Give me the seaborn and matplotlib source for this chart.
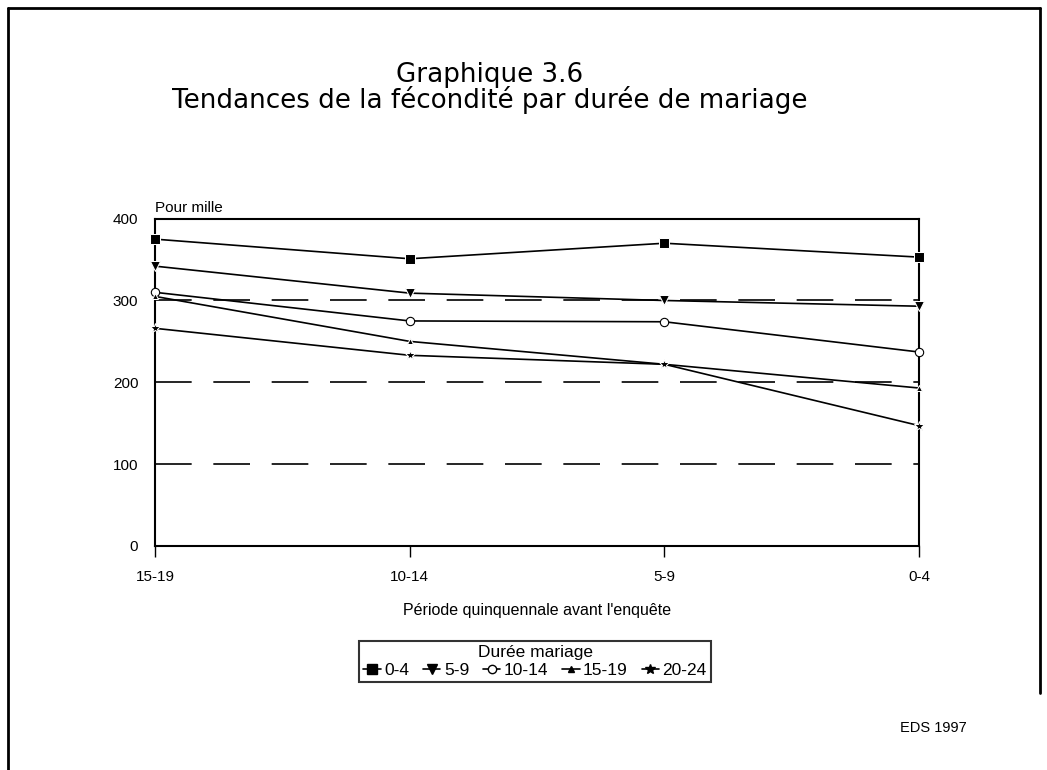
""" Graphique 3.6 : tendances de la fecondite par duree de mariage """

import numpy as np
import pandas as pd
import seaborn as sns
from matplotlib import pyplot as plt
from matplotlib.lines import Line2D

# Data
periods = ['15-19', '10-14', '5-9', '0-4']
durations = ['0-4', '5-9', '10-14', '15-19', '20-24']
rate_0_4 = [375, 351, 370, 353]
rate_5_9 = [342, 309, 300, 293]
rate_10_14 = [310, 275, 274, 237]
rate_15_19 = [305, 250, 222, 193]
rate_20_24 = [266, 233, 222, 147]

series = [rate_0_4, rate_5_9, rate_10_14, rate_15_19, rate_20_24]

rows = []
for dur, vals in zip(durations, series):
    for ii, v in enumerate(vals):
        rows.append({'periode': ii, 'duree': dur, 'taux': v})
df = pd.DataFrame(rows)

sns.set_style('white')
plt.rcParams['font.family'] = ['Liberation Sans', 'DejaVu Sans']
plt.rcParams['text.color'] = 'black'
plt.rcParams['axes.labelcolor'] = 'black'
plt.rcParams['xtick.color'] = 'black'
plt.rcParams['ytick.color'] = 'black'

fig = plt.figure(figsize=(10.47, 7.70), dpi=100)
ax = fig.add_axes([0.148, 0.291, 0.730, 0.425])

markers = {'0-4': 's', '5-9': 'v', '10-14': 'o', '15-19': '^', '20-24': '*'}
msize = {'0-4': 7, '5-9': 7, '10-14': 6, '15-19': 5, '20-24': 7}
palette = {d: 'black' for d in durations}

sns.lineplot(data=df, x='periode', y='taux', hue='duree', style='duree',
             markers=markers, dashes=False, palette=palette,
             linewidth=1.2, markersize=7, ax=ax, legend=False)

# tweak marker look per series
for line, dur in zip(ax.get_lines(), durations):
    line.set_markersize(msize[dur])
    line.set_clip_on(False)
    line.set_zorder(5)
    if dur == '10-14':
        line.set_markerfacecolor('white')
        line.set_markeredgecolor('black')
        line.set_markeredgewidth(0.8)

# Dashed reference lines
for yv in [100, 200, 300]:
    ax.axhline(yv, color='black', lw=1.2, ls=(0, (22, 13)), zorder=0)

ax.set_xlim(0, 3)
ax.set_ylim(0, 400)
ax.set_xticks(range(len(periods)))
ax.set_xticklabels(periods)
ax.set_yticks([0, 100, 200, 300, 400])
ax.tick_params(axis='x', length=8, width=1, direction='out', bottom=True,
               labelsize=11, pad=9)
ax.tick_params(axis='y', length=0, labelsize=11, pad=12)
ax.set_xlabel("Période quinquennale avant l'enquête", fontsize=11.5,
              labelpad=14)
ax.set_ylabel('')
for sp in ax.spines.values():
    sp.set_color('black')
    sp.set_linewidth(1.5)

ax.text(0.0, 1.012, 'Pour mille', transform=ax.transAxes, fontsize=11,
        ha='left', va='bottom')

# Legend
handles = []
for dur in durations:
    mfc = 'white' if dur == '10-14' else 'black'
    handles.append(Line2D([], [], color='black', lw=1.2,
                          marker=markers[dur], markersize=msize[dur],
                          markerfacecolor=mfc, markeredgecolor='black'))
leg = fig.legend(handles, durations, title='Durée mariage', ncol=5,
                 loc='center', bbox_to_anchor=(0.511, 0.141),
                 fontsize=12.5, title_fontsize=12.5, frameon=True,
                 fancybox=False, handlelength=1.0, handletextpad=0.2,
                 columnspacing=0.8, borderpad=0.25, labelspacing=0.15)
leg.get_frame().set_edgecolor('black')
leg.get_frame().set_linewidth(1.5)

# Titles
fig.text(0.468, 0.902, 'Graphique 3.6', ha='center', va='center',
         fontsize=18.8, family='DejaVu Sans')
fig.text(0.468, 0.870, 'Tendances de la fécondité par durée de mariage',
         ha='center', va='center', fontsize=18.8, family='DejaVu Sans')
fig.text(0.860, 0.055, 'EDS 1997', ha='left', va='center', fontsize=10.5)

# Outer frame
fig.add_artist(Line2D([0.008, 0.008], [0.0, 0.990], color='black', lw=2,
                      transform=fig.transFigure))
fig.add_artist(Line2D([0.008, 0.993], [0.990, 0.990], color='black', lw=2,
                      transform=fig.transFigure))
fig.add_artist(Line2D([0.993, 0.993], [0.990, 0.10], color='black', lw=2,
                      transform=fig.transFigure))

plt.savefig('out.png', dpi=100)
print('Saved: out.png')
